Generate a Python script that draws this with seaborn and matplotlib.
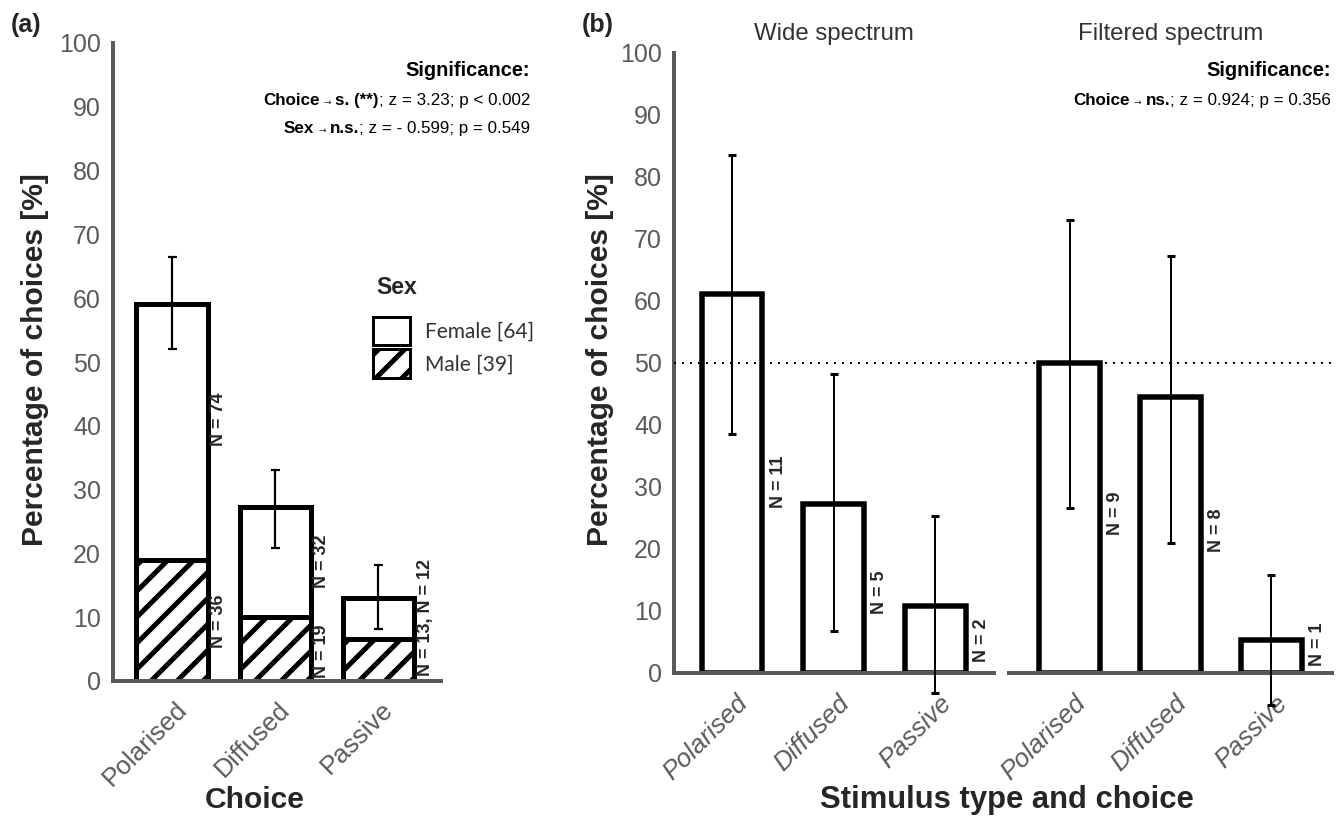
import numpy as np
import pandas as pd
import matplotlib
matplotlib.use("Agg")
import matplotlib.pyplot as plt
import seaborn as sns
from matplotlib.patches import Patch
from matplotlib.offsetbox import TextArea, HPacker, VPacker, AnchoredOffsetbox
from matplotlib.transforms import ScaledTranslation

# ---- data -------------------------------------------------------------
choices = ["Polarised", "Diffused", "Passive"]

# (a) all stimuli, split by sex
a_total = [59.1, 27.3, 13.0]
a_male = [19.0, 10.0, 6.6]
a_err_lo = [52.0, 20.9, 8.2]
a_err_hi = [66.4, 33.1, 18.2]
a_n_top = ["N = 74", "N = 32", "N = 13, N = 12"]
a_n_male = ["N = 36", "N = 19"]
legend_labels = ["Female [64]", "Male [39]"]

# (b) by stimulus type
spectra = ["Wide spectrum", "Filtered spectrum"]
wide_pct = [61.2, 27.3, 10.8]
wide_err_lo = [38.5, 6.8, -3.3]
wide_err_hi = [83.5, 48.3, 25.3]
wide_n = ["N = 11", "N = 5", "N = 2"]
filt_pct = [50.0, 44.5, 5.3]
filt_err_lo = [26.6, 21.0, -5.1]
filt_err_hi = [73.1, 67.3, 15.8]
filt_n = ["N = 9", "N = 8", "N = 1"]
chance_level = 50

# ---- style ------------------------------------------------------------
W, H, DPI = 1342, 817, 78

def pt(px):
    return px * 72 / DPI

def fx(x):
    return x / W

def fy(y):
    return 1 - y / H

def px_box(l, t, r, b):
    return [l / W, 1 - b / H, (r - l) / W, (b - t) / H]

sns.set_theme(style="white")
plt.rcParams["font.family"] = ["Liberation Sans", "DejaVu Sans"]
plt.rcParams["hatch.linewidth"] = pt(5)
grey = "#5a5a5a"
narrow = ["Liberation Sans Narrow", "Liberation Sans", "DejaVu Sans"]

fig = plt.figure(figsize=(W / DPI, H / DPI), dpi=DPI)


def style_axis(ax, left=True):
    ax.set_ylim(0, 100)
    ax.set_yticks(range(0, 101, 10))
    for s in ["top", "right"]:
        ax.spines[s].set_visible(False)
    ax.spines["bottom"].set_color(grey)
    ax.spines["bottom"].set_linewidth(pt(4))
    if left:
        ax.spines["left"].set_color(grey)
        ax.spines["left"].set_linewidth(pt(4))
        ax.tick_params(axis="y", direction="in", length=pt(5), width=pt(2),
                       color="#222222", labelcolor=grey, pad=pt(12))
        for lab in ax.get_yticklabels():
            lab.set_family(narrow)
            lab.set_fontsize(pt(25))
    else:
        ax.spines["left"].set_visible(False)
        ax.tick_params(axis="y", left=False, labelleft=False)
    ax.set_xlabel("")
    ax.set_ylabel("")


def rot_xticks(ax, dx, pad, italic=False):
    ax.tick_params(axis="x", length=0, labelcolor=grey, pad=pt(pad))
    off = ScaledTranslation(pt(dx) / 72, 0, fig.dpi_scale_trans)
    for lab in ax.get_xticklabels():
        lab.set_rotation(45)
        lab.set_ha("right")
        lab.set_va("top")
        lab.set_rotation_mode("anchor")
        lab.set_fontsize(pt(26))
        lab.set_style("italic" if italic else "normal")
        lab.set_transform(lab.get_transform() + off)


def n_labels(ax, labels, heights):
    for i, (lab, yy) in enumerate(zip(labels, heights)):
        ax.text(i + 0.455, yy, lab, rotation=90, ha="center", va="center",
                fontsize=pt(18), fontweight="bold", family=narrow, clip_on=False)


def sig_block(rows, x, y):
    bold = dict(fontsize=pt(17), fontweight="bold", family=narrow, color="black")
    norm = dict(fontsize=pt(17), family=narrow, color="black")
    lines = [TextArea("Significance:", textprops=dict(fontsize=pt(20), fontweight="bold",
                                                      color="black"))]
    for left_word, verdict, rest in rows:
        head = HPacker(children=[
            TextArea(left_word, textprops=bold),
            TextArea("\u2192", textprops=dict(fontsize=pt(9), family=["DejaVu Sans"])),
            TextArea(verdict, textprops=bold),
        ], align="baseline", pad=0, sep=pt(4))
        lines.append(HPacker(children=[head, TextArea(rest, textprops=norm)],
                             align="baseline", pad=0, sep=0))
    box = VPacker(children=lines, align="right", pad=0, sep=pt(13))
    fig.add_artist(AnchoredOffsetbox(loc="upper right", child=box, pad=0, borderpad=0,
                                     frameon=False, bbox_to_anchor=(fx(x), fy(y)),
                                     bbox_transform=fig.transFigure))


xa = np.arange(len(choices))

# ---- panel (a) ----------------------------------------------------------
ax_a = fig.add_axes(px_box(113, 43, 441, 681))
sns.barplot(x=choices, y=a_total, color="white", saturation=1, edgecolor="black",
            linewidth=pt(5), width=0.69, ax=ax_a)
sns.barplot(x=choices, y=a_male, color="white", saturation=1, edgecolor="black",
            linewidth=pt(5), width=0.69, hatch="/", ax=ax_a)
ax_a.errorbar(xa, a_total, yerr=[np.subtract(a_total, a_err_lo), np.subtract(a_err_hi, a_total)],
              fmt="none", ecolor="black", elinewidth=pt(2.2), capsize=pt(4.5), capthick=pt(2.2),
              clip_on=False, zorder=4)
ax_a.set_xlim(-0.573, 2.61)
style_axis(ax_a)
rot_xticks(ax_a, dx=3, pad=16)
n_labels(ax_a, a_n_top, [41, 18.8, 9.9])
n_labels(ax_a, a_n_male, [9.4, 4.7])

handles = [
    Patch(facecolor="white", edgecolor="black", linewidth=pt(3), label=legend_labels[0]),
    Patch(facecolor="white", edgecolor="black", linewidth=pt(3), hatch="/", label=legend_labels[1]),
]
ax_a.legend(handles=handles, loc="upper left",
            bbox_to_anchor=(fx(373), fy(317)), bbox_transform=fig.transFigure,
            frameon=False, handlelength=1.76, handleheight=1.71,
            labelspacing=0.19, handletextpad=0.71, borderpad=0, borderaxespad=0,
            prop={"family": ["Lato", "DejaVu Sans"], "size": pt(21)},
            labelcolor="#333333")
fig.text(fx(376), fy(287), "Sex", fontsize=pt(23), fontweight="bold", ha="left", va="center")

sig_block([("Choice", "s. (**)", "; z = 3.23; p < 0.002"),
           ("Sex", "n.s.", "; z = - 0.599; p = 0.549")], 530, 61)

fig.text(fx(26), fy(25), "(a)", fontsize=pt(25), fontweight="bold", ha="center", va="center")
fig.text(fx(35), fy(360), "Percentage of choices [%]", rotation=90, fontsize=pt(30),
         fontweight="bold", ha="center", va="center")
fig.text(fx(255), fy(800), "Choice", fontsize=pt(30), fontweight="bold", ha="center", va="center")

# ---- panel (b) ----------------------------------------------------------
ax_w = fig.add_axes(px_box(674, 53, 994, 673))
ax_f = fig.add_axes(px_box(1009, 53, 1332, 673))
panels = [
    (ax_w, wide_pct, wide_err_lo, wide_err_hi, (-0.571, 2.58), True),
    (ax_f, filt_pct, filt_err_lo, filt_err_hi, (-0.6, 2.6), False),
]
for ax, pct, lo, hi, lims, left in panels:
    sns.barplot(x=choices, y=pct, color="white", saturation=1, edgecolor="black",
                linewidth=pt(5.5), width=0.6, ax=ax)
    ax.errorbar(xa, pct, yerr=[np.subtract(pct, lo), np.subtract(hi, pct)],
                fmt="none", ecolor="black", elinewidth=pt(2), capsize=pt(4), capthick=pt(3),
                clip_on=False, zorder=4)
    ax.set_xlim(*lims)
    style_axis(ax, left=left)
    rot_xticks(ax, dx=4, pad=18, italic=True)
    ax.axhline(chance_level, xmin=0, xmax=1.05 if left else 1, color="black",
               linestyle=(0, (1, 3)), linewidth=pt(2), clip_on=False, zorder=5)

n_labels(ax_w, wide_n, [30.9, 13.0, 5.3])
n_labels(ax_f, filt_n, [25.8, 23.1, 4.7])

for ax, title in zip([ax_w, ax_f], spectra):
    ax.set_title(title, fontsize=pt(24), color="#333333", pad=pt(13))

sig_block([("Choice", "ns.", "; z = 0.924; p = 0.356")], 1331, 61)

fig.text(fx(598), fy(25), "(b)", fontsize=pt(25), fontweight="bold", ha="center", va="center")
fig.text(fx(600), fy(360), "Percentage of choices [%]", rotation=90, fontsize=pt(30),
         fontweight="bold", ha="center", va="center")
fig.text(fx(1007), fy(800), "Stimulus type and choice", fontsize=pt(31), fontweight="bold",
         ha="center", va="center")

fig.savefig("out.png", dpi=DPI, facecolor="white")
